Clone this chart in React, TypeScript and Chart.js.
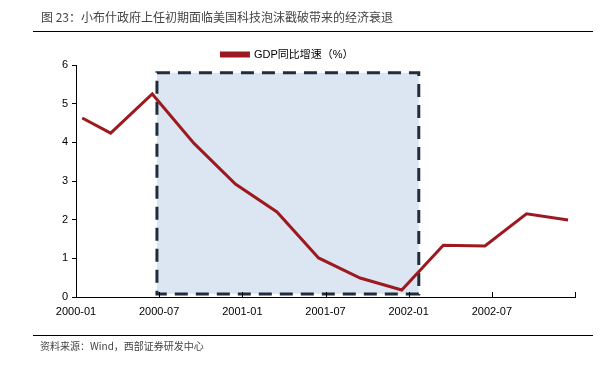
import React, { useEffect, useRef } from "react";
import { Chart, registerables } from "chart.js";

Chart.register(...registerables);

// months since 2000-01 for each observation
const xMonths = [0.45, 2.5, 5.5, 8.5, 11.5, 14.5, 17.5, 20.5, 23.5, 26.5, 29.5, 32.5, 35.5];
const gdpYoY = [4.63, 4.24, 5.25, 3.98, 2.92, 2.2, 1.01, 0.49, 0.18, 1.34, 1.32, 2.15, 1.99];
const tickLabels = ["2000-01", "2000-07", "2001-01", "2001-07", "2002-01", "2002-07", ""];
const seriesName = "GDP同比增速（%）";
// highlighted recession window: [x start, x end] in months, [y low, y high]
const boxX = [5.84, 24.73];
const boxY = [0.08, 5.8];

const titleText = "图 23：小布什政府上任初期面临美国科技泡沫戳破带来的经济衰退";
const sourceText = "资料来源：Wind，西部证券研发中心";

const LATIN = "'Liberation Sans', Arial, sans-serif";
const CJK = "'Liberation Sans', 'Noto Sans CJK SC', sans-serif";
const LINE_RED = "#9C1A1F";

const boxPlugin = {
  id: "recessionBox",
  beforeDatasetsDraw(chart: any) {
    const { ctx, scales } = chart;
    const x0 = scales.x.getPixelForValue(boxX[0]);
    const x1 = scales.x.getPixelForValue(boxX[1]);
    const y0 = scales.y.getPixelForValue(boxY[1]);
    const y1 = scales.y.getPixelForValue(boxY[0]);
    ctx.save();
    ctx.fillStyle = "#DCE6F2";
    ctx.fillRect(x0, y0, x1 - x0, y1 - y0);
    ctx.strokeStyle = "#1F2D3D";
    ctx.lineWidth = 3;
    ctx.setLineDash([13, 8]);
    ctx.strokeRect(x0, y0, x1 - x0, y1 - y0);
    ctx.restore();
  },
};

const inwardTicks = {
  id: "inwardTicks",
  afterDraw(chart: any) {
    const { ctx, scales, chartArea } = chart;
    ctx.save();
    ctx.strokeStyle = "#000";
    ctx.lineWidth = 1;
    scales.x.ticks.forEach((t: any) => {
      const px = Math.round(scales.x.getPixelForValue(t.value)) + 0.5;
      ctx.beginPath();
      ctx.moveTo(px, chartArea.bottom);
      ctx.lineTo(px, chartArea.bottom - 5);
      ctx.stroke();
    });
    ctx.restore();
  },
};

// make the legend box more compact than the library default
const compactLegend = {
  id: "compactLegend",
  beforeLayout(chart: any) {
    const lg = chart.legend;
    if (lg && !lg.__compact) {
      const orig = lg.fit;
      lg.fit = function (this: any) {
        orig.call(this);
        this.height = 16;
      };
      lg.__compact = true;
    }
  },
};

function ChartCanvas() {
  const ref = useRef<HTMLCanvasElement>(null);
  useEffect(() => {
    if (!ref.current) return;
    const chart = new Chart(ref.current, {
      type: "line",
      data: {
        datasets: [
          {
            label: seriesName,
            data: xMonths.map((x, i) => ({ x, y: gdpYoY[i] })),
            borderColor: LINE_RED,
            backgroundColor: LINE_RED,
            borderWidth: 3,
            pointRadius: 0,
            tension: 0,
          },
        ],
      },
      options: {
        animation: false,
        responsive: false,
        layout: { padding: { left: 0, right: 31, top: 49, bottom: 0 } },
        plugins: {
          legend: {
            display: true,
            position: "top",
            align: "center",
            labels: {
              boxWidth: 27,
              boxHeight: 3,
              padding: 0,
              color: "#000",
              font: { family: CJK, size: 11 },
            },
          },
          tooltip: { enabled: false },
        },
        scales: {
          x: {
            type: "linear",
            min: 0,
            max: 36,
            afterFit(s: any) {
              s.height = 72;
            },
            afterBuildTicks(s: any) {
              s.ticks = tickLabels.map((_, i) => ({ value: i * 6 }));
            },
            ticks: {
              autoSkip: false,
              maxRotation: 0,
              padding: 8,
              color: "#000",
              font: { family: LATIN, size: 11 },
              callback: (v: any) => tickLabels[Math.round(Number(v) / 6)] ?? "",
            },
            grid: { display: true, drawOnChartArea: false, drawTicks: false },
            border: { display: true, color: "#000", width: 1 },
          },
          y: {
            min: 0,
            max: 6,
            afterFit(s: any) {
              s.width = 76;
            },
            ticks: {
              stepSize: 1,
              padding: 4,
              color: "#000",
              font: { family: LATIN, size: 11 },
            },
            grid: { drawOnChartArea: false, drawTicks: true, tickLength: 4, color: "#000" },
            border: { display: true, color: "#000", width: 1 },
          },
        },
      },
      plugins: [compactLegend, boxPlugin, inwardTicks],
    });
    return () => chart.destroy();
  }, []);
  return <canvas ref={ref} width={606} height={369} style={{ position: "absolute", left: 0, top: 0 }} />;
}

export default function App() {
  return (
    <div style={{ position: "fixed", left: 0, top: 0, width: 606, height: 369, background: "#fff", overflow: "hidden" }}>
      <ChartCanvas />
      <div
        style={{
          position: "absolute",
          left: 41,
          top: 10,
          fontFamily: "'Noto Sans CJK SC', sans-serif",
          fontSize: 12,
          color: "#444",
          whiteSpace: "nowrap",
          lineHeight: "14px",
        }}
      >
        {titleText}
      </div>
      <div style={{ position: "absolute", left: 33, top: 31, width: 560, height: 1, background: "#000" }} />
      <div style={{ position: "absolute", left: 33, top: 335, width: 560, height: 1, background: "#000" }} />
      <div
        style={{
          position: "absolute",
          left: 40,
          top: 340,
          fontFamily: "'Noto Sans CJK SC', sans-serif",
          fontSize: 10,
          color: "#444",
          whiteSpace: "nowrap",
          lineHeight: "12px",
        }}
      >
        {sourceText}
      </div>
    </div>
  );
}
